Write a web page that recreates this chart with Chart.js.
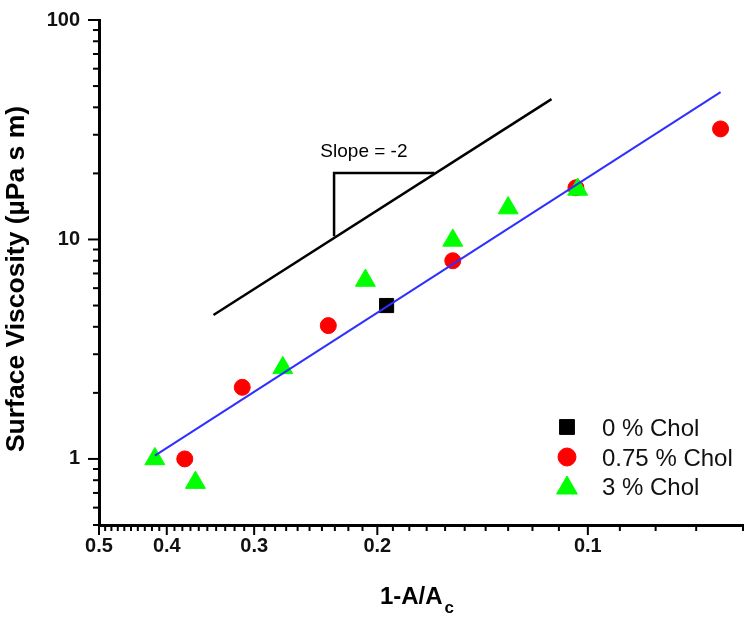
<!DOCTYPE html>
<html><head><meta charset="utf-8">
<script src="https://cdn.jsdelivr.net/npm/chart.js@4.4.0/dist/chart.umd.min.js"></script>
<style>html,body{margin:0;padding:0;background:#fff}#wrap{width:750px;height:625px;position:relative}</style>
</head><body><div id="wrap"><canvas id="c" width="750" height="625"></canvas></div>
<script>
// ---- data ----
const seriesLabels = ['0 % Chol', '0.75 % Chol', '3 % Chol'];
const chol0X = [0.194];
const chol0Y = [5.0];
const chol075X = [0.377, 0.312, 0.235, 0.156, 0.104, 0.0646];
const chol075Y = [1.0, 2.12, 4.05, 8.0, 17.2, 31.9];
const chol3X = [0.416, 0.364, 0.273, 0.208, 0.156, 0.130, 0.1034];
const chol3Y = [1.0, 0.78, 2.6, 6.5, 9.9, 13.9, 16.9];
const fitX = [0.416, 0.0646];
const fitY = [1.035, 46.9];
const guideX = [0.343, 0.1127];
const guideY = [4.53, 43.6];
const slopeTriX = [0.2306, 0.2306, 0.1657];
const slopeTriY = [10.35, 20.1, 20.1];
const slopeText = 'Slope = -2';
const slopeTextAt = [0.209, 25.0];
const xMajorTicks = [0.5, 0.4, 0.3, 0.2, 0.1];
const xMinorTicks = [0.49,0.48,0.47,0.46,0.45,0.44,0.43,0.42,0.41,
                     0.39,0.38,0.37,0.36,0.35,0.34,0.33,0.32,0.31,
                     0.29,0.28,0.27,0.26,0.25,0.24,0.23,0.22,0.21,
                     0.19,0.18,0.17,0.16,0.15,0.14,0.13,0.12,0.11,
                     0.09,0.08,0.07,0.06];
const yMajorTicks = [1, 10, 100];
const yMinorTicks = [0.5,0.6,0.7,0.8,0.9,2,3,4,5,6,7,8,9,20,30,40,50,60,70,80,90];
const xRange = [0.06, 0.5];
const yRange = [0.5, 100];
const xTitleMain = '1-A/A';
const xTitleSub = 'c';
const yTitle = 'Surface Viscosity (\u00b5Pa s m)';

const pts = (xs, ys) => xs.map((x, i) => ({x: x, y: ys[i]}));
const FONT = "Arial, 'Liberation Sans', sans-serif";
const isIn = (arr, v) => arr.some(a => Math.abs(a - v) < 1e-9);

const ticksPlugin = {
  id: 'ticksAndText',
  afterDraw(chart) {
    const ctx = chart.ctx, xs = chart.scales.x, ys = chart.scales.y, ca = chart.chartArea;
    ctx.save();
    ctx.strokeStyle = '#000';
    ctx.lineWidth = 2;
    const xb = ca.bottom;
    const drawX = (v, len) => { const p = xs.getPixelForValue(v); ctx.beginPath(); ctx.moveTo(p, xb); ctx.lineTo(p, xb + len); ctx.stroke(); };
    xMajorTicks.forEach(v => drawX(v, 10));
    xMinorTicks.forEach(v => drawX(v, 6));
    const yl = ca.left;
    const drawY = (v, len) => { const p = ys.getPixelForValue(v); ctx.beginPath(); ctx.moveTo(yl, p); ctx.lineTo(yl - len, p); ctx.stroke(); };
    yMajorTicks.forEach(v => drawY(v, 11));
    yMinorTicks.forEach(v => drawY(v, 6));

    // slope label
    ctx.fillStyle = '#000';
    ctx.font = "19px " + FONT;
    ctx.textAlign = 'center';
    ctx.textBaseline = 'middle';
    ctx.fillText(slopeText, xs.getPixelForValue(slopeTextAt[0]), ys.getPixelForValue(slopeTextAt[1]));

    // x title with subscript
    ctx.font = "bold 24px " + FONT;
    ctx.textBaseline = 'alphabetic';
    ctx.textAlign = 'left';
    const wMain = ctx.measureText(xTitleMain).width;
    ctx.font = "bold 17px " + FONT;
    const wSub = ctx.measureText(xTitleSub).width;
    const cx = (ca.left + ca.right) / 2 - 4;
    const x0 = cx - (wMain + wSub + 2) / 2;
    ctx.font = "bold 24px " + FONT;
    ctx.fillText(xTitleMain, x0, 604);
    ctx.font = "bold 17px " + FONT;
    ctx.fillText(xTitleSub, x0 + wMain + 2, 613);

    // y title
    ctx.save();
    ctx.translate(24, 279);
    ctx.rotate(-Math.PI / 2);
    ctx.font = "bold 26.5px " + FONT;
    ctx.textAlign = 'center';
    ctx.textBaseline = 'alphabetic';
    ctx.fillText(yTitle, 0, 0);
    ctx.restore();

    // legend
    const rows = [427, 457, 486];
    const mx = 567, tx = 602;
    for (let i = 0; i < 3; i++) {
      const ds = chart.data.datasets[i];
      ctx.fillStyle = ds.backgroundColor;
      ctx.strokeStyle = ds.borderColor;
      ctx.lineWidth = 1;
      const r = ds.legendRadius;
      Chart.helpers.drawPoint(ctx, {pointStyle: ds.pointStyle, radius: r, rotation: 0, borderWidth: 1}, mx, rows[i] + (ds.pointStyle === 'triangle' ? 2 : 0));
      ctx.fillStyle = '#111';
      ctx.font = "24px " + FONT;
      ctx.textAlign = 'left';
      ctx.textBaseline = 'alphabetic';
      ctx.fillText(ds.label, tx, rows[i] + 8.6);
    }
    ctx.restore();
  }
};

new Chart(document.getElementById('c'), {
  type: 'scatter',
  data: {
    datasets: [
      {label: seriesLabels[0], data: pts(chol0X, chol0Y), pointStyle: 'rect', pointRadius: 10, legendRadius: 10.5,
       backgroundColor: '#000000', borderColor: '#000000', borderWidth: 1, order: 3},
      {label: seriesLabels[1], data: pts(chol075X, chol075Y), pointStyle: 'circle', pointRadius: 8, legendRadius: 9,
       backgroundColor: '#ff0000', borderColor: '#ff0000', borderWidth: 1, order: 2},
      {label: seriesLabels[2], data: pts(chol3X, chol3Y), pointStyle: 'triangle', pointRadius: 11.5, legendRadius: 12,
       backgroundColor: '#00ff00', borderColor: '#00ff00', borderWidth: 1, order: 1},
      {label: 'fit', data: pts(fitX, fitY), showLine: true, pointRadius: 0, borderColor: '#2f2fff', borderWidth: 2, order: 0},
      {label: 'guide', data: pts(guideX, guideY), showLine: true, pointRadius: 0, borderColor: '#000', borderWidth: 2.5, order: 4},
      {label: 'tri', data: pts(slopeTriX, slopeTriY), showLine: true, pointRadius: 0, borderColor: '#000', borderWidth: 2.5, order: 4}
    ]
  },
  options: {
    responsive: false,
    animation: false,
    events: [],
    layout: {autoPadding: false, padding: {top: 20, right: 7, left: 0, bottom: 0}},
    plugins: {legend: {display: false}, tooltip: {enabled: false}},
    scales: {
      x: {
        type: 'logarithmic', reverse: true, min: xRange[0], max: xRange[1],
        afterBuildTicks: s => { s.ticks = xMajorTicks.map(v => ({value: v})); },
        afterFit: s => { s.height = 100; s.paddingLeft = 0; s.paddingRight = 0; s.paddingTop = 0; s.paddingBottom = 0; },
        grid: {display: false, drawTicks: false},
        border: {display: true, color: '#000', width: 3},
        ticks: {autoSkip: false, maxRotation: 0, padding: 9, color: '#111',
                font: {family: FONT, size: 20, weight: 'bold'},
                callback: v => isIn(xMajorTicks, v) ? String(v) : ''}
      },
      y: {
        type: 'logarithmic', min: yRange[0], max: yRange[1],
        afterBuildTicks: s => { s.ticks = yMajorTicks.map(v => ({value: v})); },
        afterFit: s => { s.width = 99; s.paddingLeft = 0; s.paddingRight = 0; s.paddingTop = 0; s.paddingBottom = 0; },
        grid: {display: false, drawTicks: false},
        border: {display: true, color: '#000', width: 3},
        ticks: {autoSkip: false, padding: 19, color: '#111',
                font: {family: FONT, size: 20, weight: 'bold'},
                callback: v => isIn(yMajorTicks, v) ? String(v) : ''}
      }
    }
  },
  plugins: [ticksPlugin]
});
</script>
</body></html>
